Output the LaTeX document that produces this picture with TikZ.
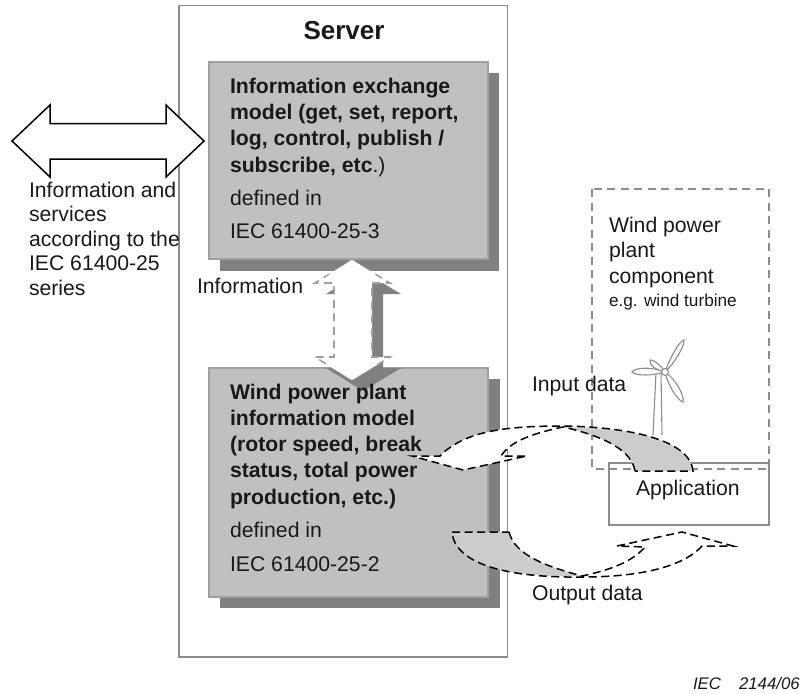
\documentclass[tikz,border=0pt]{standalone}
\usepackage{fontspec}
\setmainfont{Liberation Sans}
\definecolor{boxgrey}{HTML}{C0C0C0}
\definecolor{edgegrey}{HTML}{A0A0A0}
\definecolor{shadowgrey}{HTML}{808080}
\definecolor{linegrey}{HTML}{8C8C8C}
\definecolor{flowgrey}{HTML}{CCCCCC}
\tikzset{
  x=1pt,y=-1pt,
  txt/.style={inner sep=0pt,outer sep=0pt,anchor=base west,align=left,font=\fontsize{21.2}{26.2}\selectfont,text=black!90},
  modelbox/.style={fill=boxgrey,draw=edgegrey,line width=1.6pt},
  flowline/.style={draw=black,line width=1.5pt,dash pattern=on 8pt off 4.5pt},
  greydash/.style={draw=linegrey,line width=2pt,dash pattern=on 8pt off 5.5pt},
  blade/.style={draw=linegrey,fill=white,line width=1.1pt},
}
\begin{document}
\begin{tikzpicture}
\useasboundingbox (0,0) rectangle (800,693);
% server
\draw[draw=linegrey,line width=1.6pt] (179,5.5) rectangle (507.5,657);
% shadows
\fill[shadowgrey] (220,73) rectangle (499,271);
\fill[shadowgrey] (220,379) rectangle (500,608);
% boxes
\draw[modelbox] (209,62) rectangle (488,259);
\draw[modelbox] (209,368) rectangle (488,597);
% vertical block arrow
\fill[shadowgrey] (363,271)--(401,294)--(383,294)--(383,368)--(401,368)--(363,391)--(326,368)--(345,368)--(345,294)--(326,294)--cycle;
\fill[white] (352,260)--(390,283)--(372,283)--(372,357)--(390,357)--(352,380)--(315,357)--(334,357)--(334,283)--(315,283)--cycle;
\draw[greydash,draw=edgegrey,line width=1.6pt] (352,260)--(390,283)--(372,283)--(372,357)--(390,357)--(352,380)--(315,357)--(334,357)--(334,283)--(315,283)--cycle;
\fill[white] (352,260)--(376,275)--(328,275)--cycle;
\fill[white] (352,380)--(378,364)--(326,364)--cycle;
% left double arrow
\draw[fill=white,draw=black,line width=1.5pt,line join=miter] (12,141)--(50,105)--(50,123.5)--(166,123.5)--(166,105)--(204,141)--(166,177)--(166,159)--(50,159)--(50,177)--cycle;
% component
\draw[greydash] (592,189) rectangle (769,469);
% turbine
\draw[blade] (653,435)--(656,372);
\draw[blade] (662,435)--(661,372);
\draw[blade] (665,372) .. controls (650,366) and (634,368) .. (632,372) .. controls (636,376) and (652,376) .. (665,372);
\draw[blade] (665,372) .. controls (660,364) and (652,359) .. (650,360) .. controls (649,365) and (656,370) .. (665,372);
\draw[blade] (665,372) .. controls (670,358) and (679,341) .. (684,340) .. controls (685,345) and (675,363) .. (665,372);
\draw[blade] (665,372) .. controls (675,378) and (685,396) .. (683,402) .. controls (677,400) and (668,385) .. (665,372);
\draw[blade] (665,372) circle (3.5);
% application
\draw[draw=linegrey,line width=1.6pt] (609,463) rectangle (769,525);
% input arrow
\fill[white] (563,427) .. controls (530,434) and (510,442) .. (501,456) -- (527,456) -- (463,470) -- (412,456) -- (440,456) .. controls (465,430) and (510,426) .. (563,426) -- cycle;
\fill[flowgrey] (635,471) .. controls (632,452) and (608,437) .. (563,427) .. controls (630,427) and (690,440) .. (693,471) -- cycle;
\draw[flowline] (635,471) .. controls (632,452) and (608,437) .. (563,427) .. controls (530,434) and (510,442) .. (501,456) -- (527,456) -- (463,470) -- (412,456) -- (440,456) .. controls (465,430) and (510,426) .. (563,426) .. controls (630,427) and (690,440) .. (693,471) -- cycle;
% output arrow
\fill[white] (582,576) .. controls (610,570) and (632,562) .. (645,547) -- (617,546) -- (682,532) -- (733,546) -- (702,546) .. controls (680,570) and (630,577) .. (582,577) -- cycle;
\fill[flowgrey] (509,532) .. controls (515,555) and (545,566) .. (582,576) .. controls (510,578) and (455,565) .. (452,532) -- cycle;
\draw[flowline] (509,532) .. controls (515,555) and (545,566) .. (582,576) .. controls (610,570) and (632,562) .. (645,547) -- (617,546) -- (682,532) -- (733,546) -- (702,546) .. controls (680,570) and (630,577) .. (582,577) .. controls (510,578) and (455,565) .. (452,532) -- cycle;
% texts
\node[txt,font=\fontsize{26}{28}\bfseries\selectfont,anchor=base] (srv) at (344,40) {Server};
\node[txt] (m1) at (230,172) {\bfseries Information exchange\\\bfseries model (get, set, report,\\\bfseries log, control, publish /\\\bfseries subscribe, etc\mdseries.)};
\node[txt] (d1) at (230,205) {defined in};
\node[txt] (i1) at (230,238) {IEC 61400-25-3};
\node[txt] (m2) at (230,504) {\bfseries Wind power plant\\\bfseries information model\\\bfseries (rotor speed, break\\\bfseries status, total power\\\bfseries production, etc.)};
\node[txt] (d2) at (230,537) {defined in};
\node[txt] (i2) at (230,571) {IEC 61400-25-2};
\node[txt,font=\fontsize{21.2}{24.5}\selectfont] (svc) at (29,295) {Information and\\services\\according to the\\IEC 61400-25\\series};
\node[txt] (inf) at (197,293) {Information};
\node[txt,font=\fontsize{21.2}{25.5}\selectfont] (wc) at (609,283) {Wind power\\plant\\component};
\node[txt,font=\fontsize{17.2}{20}\selectfont] (eg) at (609,306) {e.g. wind turbine};
\node[txt] (ip) at (532,391) {Input data};
\node[txt] (op) at (532,600) {Output data};
\node[txt] (ap) at (636,495) {Application};
\node[txt,font=\fontsize{16.8}{18}\itshape\selectfont] (fig) at (693,689) {IEC\hspace{18pt}2144/06};
\end{tikzpicture}
\end{document}
